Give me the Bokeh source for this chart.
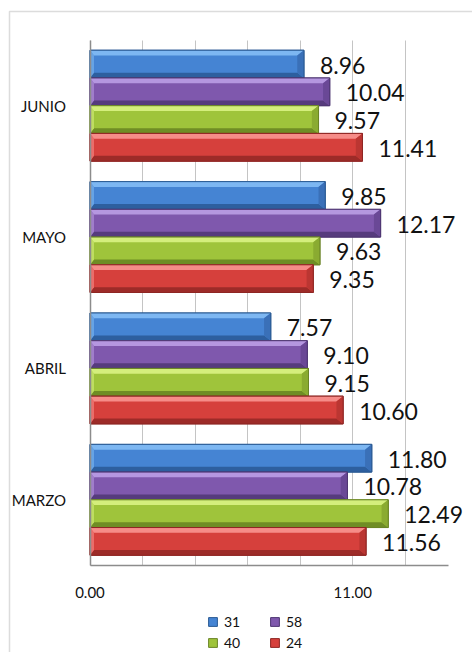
from bokeh.plotting import figure
from bokeh.models import (Range1d, FixedTicker, NumeralTickFormatter, Legend, LegendItem,
                          BoxAnnotation, ColumnDataSource)
from bokeh.core.properties import value
from bokeh.embed import file_html
from bokeh.resources import INLINE

# Monthly values per series (categories bottom to top)
months = ["MARZO", "ABRIL", "MAYO", "JUNIO"]
series_names = ["31", "58", "40", "24"]
s31 = [11.80, 7.57, 9.85, 8.96]
s58 = [10.78, 9.10, 12.17, 10.04]
s40 = [12.49, 9.15, 9.63, 9.57]
s24 = [11.56, 10.60, 9.35, 11.41]
series_values = [s31, s58, s40, s24]

x_grid_ticks = [0, 2.2, 4.4, 6.6, 8.8, 11.0, 13.2]
x_label_ticks = [0, 11.0]
x_axis_max = 15

FONT = "Lato"
W, H = 472, 652

# colour sets: main, highlight (top edge), shadow (bottom edge), end face, outline
palette = [
    dict(mid="#4584d3", top="#7db7f2", bot="#2d5f9f", end="#3a70b8", line="#2a5a93"),
    dict(mid="#7f58ad", top="#b597e0", bot="#563b7d", end="#6a4896", line="#4e3672"),
    dict(mid="#9fc43b", top="#d4ee7c", bot="#6f8d25", end="#8aab31", line="#6a8526"),
    dict(mid="#d6403c", top="#f68c88", bot="#9d2b28", end="#bb3632", line="#8e2623"),
]

bar_h = 0.211
offsets = [1.5 * bar_h, 0.5 * bar_h, -0.5 * bar_h, -1.5 * bar_h]
bev_x = 0.28
bev_y = 0.04

# plot area placement inside the canvas (pixels)
left_px, right_px = 89.5, 447.7
top_px, bottom_px = 39.5, 565.0
ppx = (right_px - left_px) / x_axis_max
y_lo, y_hi = -0.5, len(months) - 0.5
ppy = (bottom_px - top_px) / (y_hi - y_lo)
x_range = Range1d(-left_px / ppx, (W - left_px) / ppx)
y_range = Range1d(y_lo - (H - bottom_px) / ppy, y_hi + top_px / ppy)

p = figure(width=W, height=H, x_range=x_range, y_range=y_range,
           output_backend="svg", toolbar_location=None, min_border=0)
p.outline_line_color = None
p.background_fill_color = "white"
p.border_fill_color = "white"

# grid
p.ygrid.grid_line_color = None
p.xgrid.ticker = FixedTicker(ticks=x_grid_ticks)
p.xgrid.bounds = (0, x_axis_max)
p.xgrid.cross_bounds = (y_lo, y_hi)
p.xgrid.grid_line_color = "#c4c4c4"
p.xgrid.grid_line_width = 1

# x axis
xa = p.xaxis[0]
xa.fixed_location = y_lo
xa.bounds = (0, x_axis_max)
xa.ticker = FixedTicker(ticks=x_label_ticks)
xa.formatter = NumeralTickFormatter(format="0.00")
xa.axis_line_color = "#8c8c8c"
xa.axis_line_width = 1.5
xa.major_tick_line_color = None
xa.minor_tick_line_color = None
xa.major_label_standoff = 15
xa.major_label_text_font = FONT
xa.major_label_text_font_size = "15px"
xa.major_label_text_color = "#111111"

# y axis
ya = p.yaxis[0]
ya.fixed_location = 0
ya.bounds = (y_lo, y_hi)
ya.ticker = FixedTicker(ticks=list(range(len(months))))
ya.major_label_overrides = {i: m for i, m in enumerate(months)}
ya.axis_line_color = "#8c8c8c"
ya.axis_line_width = 1.5
ya.major_tick_line_color = None
ya.minor_tick_line_color = None
ya.major_label_standoff = 18
ya.major_label_text_font = FONT
ya.major_label_text_font_size = "15px"
ya.major_label_text_color = "#111111"

legend_items = []
for name, vals, off, col in zip(series_names, series_values, offsets, palette):
    ys = [i + off for i in range(len(vals))]
    src = ColumnDataSource(dict(y=ys, v=vals, lbl=[f"{v:.2f}" for v in vals]))
    r = p.hbar(y="y", left=0, right="v", height=bar_h, source=src,
               fill_color=col["mid"], line_color=col["line"], line_width=1)
    legend_items.append(LegendItem(label=name, renderers=[r]))

    # bevel faces
    top_xs, top_ys, bot_xs, bot_ys, end_xs, end_ys, lft_xs, lft_ys = ([] for _ in range(8))
    for y, v in zip(ys, vals):
        yt, yb = y + bar_h / 2, y - bar_h / 2
        top_xs.append([0, v, v - bev_x, bev_x * 0.6])
        top_ys.append([yt, yt, yt - bev_y, yt - bev_y])
        bot_xs.append([0, v, v - bev_x, bev_x * 0.6])
        bot_ys.append([yb, yb, yb + bev_y, yb + bev_y])
        end_xs.append([v - bev_x, v, v, v - bev_x])
        end_ys.append([yt - bev_y, yt, yb, yb + bev_y])
        lft_xs.append([0, bev_x * 0.6, bev_x * 0.6, 0])
        lft_ys.append([yt, yt - bev_y, yb + bev_y, yb])
    p.patches(top_xs, top_ys, fill_color=col["top"], line_color=None)
    p.patches(bot_xs, bot_ys, fill_color=col["bot"], line_color=None)
    p.patches(end_xs, end_ys, fill_color=col["end"], line_color=None)
    p.patches(lft_xs, lft_ys, fill_color=col["top"], fill_alpha=0.6, line_color=None)
    p.hbar(y="y", left=0, right="v", height=bar_h, source=src,
           fill_color=None, line_color=col["line"], line_width=1)

    # value labels
    p.text(x="v", y="y", text="lbl", source=src, x_offset=16, y_offset=1,
           text_font=value(FONT), text_font_size="23px", text_color="#111111",
           text_baseline="middle", text_align="left")

legend = Legend(items=legend_items, orientation="horizontal", ncols=2,
                location=(207, 0), padding=0, margin=0, spacing=2,
                glyph_width=11, glyph_height=11, label_standoff=6, label_width=43,
                label_height=19, label_text_font=FONT, label_text_font_size="14px",
                label_text_color="#111111", background_fill_alpha=0,
                border_line_color=None)
p.add_layout(legend, "center")

# chart frame border
p.add_layout(BoxAnnotation(left=9, right=W + 20, top=11, bottom=H + 20,
                           left_units="canvas", right_units="canvas",
                           top_units="canvas", bottom_units="canvas",
                           fill_color=None, fill_alpha=0,
                           line_color="#8c8c8c", line_width=1.5))

open("out.html", "w").write(file_html(p, INLINE))
